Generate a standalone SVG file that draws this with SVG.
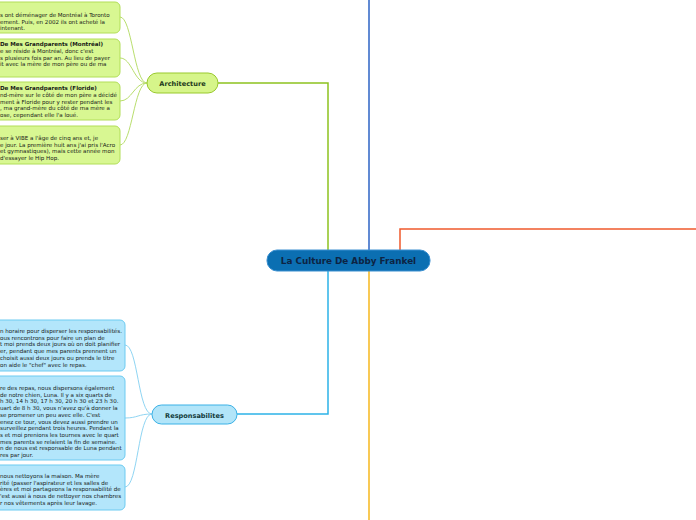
<svg xmlns="http://www.w3.org/2000/svg" width="696" height="520" viewBox="0 0 696 520">
<style>
.t{font-family:"DejaVu Sans","Liberation Sans",sans-serif;font-size:5.55px;fill:#162016}
.b{font-weight:bold}
.gbox{fill:#d8f792;stroke:#b2de58;stroke-width:1}
.bbox{fill:#b3e6fb;stroke:#6ccbf1;stroke-width:1}
.gc{fill:none;stroke:#b9de6e;stroke-width:1}
.bc{fill:none;stroke:#8fd5f3;stroke-width:1}
.lbl{font-family:"DejaVu Sans","Liberation Sans",sans-serif;font-weight:bold;text-anchor:middle}
</style>
<rect width="696" height="520" fill="#ffffff"/>
<g id="connectors">
<path d="M369,0 V250" stroke="#2d63c4" stroke-width="1.5" fill="none"/>
<path d="M400,250 V229 H696" stroke="#ef5a2d" stroke-width="1.5" fill="none"/>
<path d="M328,250 V83 H218" stroke="#8dc21f" stroke-width="1.5" fill="none"/>
<path d="M328,271 V414 H237" stroke="#2cb3e8" stroke-width="1.5" fill="none"/>
<path d="M369,271 V520" stroke="#f6b71d" stroke-width="1.5" fill="none"/>
<path class="gc" d="M147,83 C134,83 132,17 120,17"/>
<path class="gc" d="M147,83 C134,83 132,58 120,58"/>
<path class="gc" d="M147,83 C134,83 132,101 120,101"/>
<path class="gc" d="M147,83 C134,83 132,145 120,145"/>
<path class="bc" d="M152,414 C138,414 138,345 125,345"/>
<path class="bc" d="M152,414 C138,414 138,418 125,418"/>
<path class="bc" d="M152,414 C138,414 138,487 125,487"/>
</g>
<g id="central">
<rect x="267" y="250" width="163" height="21" rx="10" fill="#0b6fb2" stroke="#3a8fd0" stroke-width="1"/>
<text class="lbl" x="348.5" y="264" font-size="8.8" fill="#0d2443">La Culture De Abby Frankel</text>
</g>
<g id="architecture">
<rect x="147" y="73" width="71" height="20" rx="10" fill="#d6f58a" stroke="#99c92c" stroke-width="1"/>
<text class="lbl" x="182.5" y="86" font-size="6.6" fill="#1d3a1a">Architecture</text>
</g>
<g id="responsabilites">
<rect x="152" y="405" width="85" height="19" rx="9.5" fill="#b2e5f9" stroke="#3ab1e6" stroke-width="1"/>
<text class="lbl" x="194.5" y="417.5" font-size="6.6" fill="#123a3a">Responsabilites</text>
</g>
<g id="g1">
<rect class="gbox" x="-10" y="2" width="130" height="31" rx="5"/>
<text class="t" x="0" y="17">s ont déménager de Montréal à Toronto</text>
<text class="t" x="0" y="23.5">ement. Puis, en 2002 ils ont acheté la</text>
<text class="t" x="0" y="30">intenant.</text>
</g>
<g id="g2">
<rect class="gbox" x="-10" y="39" width="130" height="38" rx="5"/>
<text class="t b" x="0" y="46">De Mes Grandparents (Montréal)</text>
<text class="t" x="0" y="53">e se réside à Montréal, donc c'est</text>
<text class="t" x="0" y="59.5">s plusieurs fois par an. Au lieu de payer</text>
<text class="t" x="0" y="66">it avec la mère de mon père ou de ma</text>
</g>
<g id="g3">
<rect class="gbox" x="-10" y="82" width="130" height="38" rx="5"/>
<text class="t b" x="0" y="90">De Mes Grandparents (Floride)</text>
<text class="t" x="0" y="97">nd-mère sur le côté de mon père a décidé</text>
<text class="t" x="0" y="103.5">ment à Floride pour y rester pendant les</text>
<text class="t" x="0" y="110">, ma grand-mère du côté de ma mère a</text>
<text class="t" x="0" y="116.5">ose, cependant elle l'a loué.</text>
</g>
<g id="g4">
<rect class="gbox" x="-10" y="126" width="130" height="38" rx="5"/>
<text class="t" x="0" y="140">ser à VIBE a l'âge de cinq ans et, je</text>
<text class="t" x="0" y="146.5">e jour. La première huit ans j'ai pris l'Acro</text>
<text class="t" x="0" y="153">et gymnastiques), mais cette année mon</text>
<text class="t" x="0" y="159.5">d'essayer le Hip Hop.</text>
</g>
<g id="b1">
<rect class="bbox" x="-10" y="320" width="135" height="51" rx="5"/>
<text class="t" x="0" y="333">n horaire pour disperser les responsabilités.</text>
<text class="t" x="0" y="339.7">ous rencontrons pour faire un plan de</text>
<text class="t" x="0" y="346.4">t moi prends deux jours où on doit planifier</text>
<text class="t" x="0" y="353.1">er, pendant que mes parents prennent un</text>
<text class="t" x="0" y="359.8">choisit aussi deux jours ou prends le titre</text>
<text class="t" x="0" y="366.5">on aide le "chef" avec le repas.</text>
</g>
<g id="b2">
<rect class="bbox" x="-10" y="376" width="135" height="84" rx="5"/>
<text class="t" x="0" y="390">re des repas, nous dispersons également</text>
<text class="t" x="0" y="396.7">de notre chien, Luna. Il y a six quarts de</text>
<text class="t" x="0" y="403.4">h 30, 14 h 30, 17 h 30, 20 h 30 et 23 h 30.</text>
<text class="t" x="0" y="410.1">uart de 8 h 30, vous n'avez qu'à donner la</text>
<text class="t" x="0" y="416.8">se promener un peu avec elle. C'est</text>
<text class="t" x="0" y="423.5">enez ce tour, vous devez aussi prendre un</text>
<text class="t" x="0" y="430.2">surveillez pendant trois heures. Pendant la</text>
<text class="t" x="0" y="436.9">s et moi prenions les tournes avec le quart</text>
<text class="t" x="0" y="443.6">mes parents se relaient la fin de semaine.</text>
<text class="t" x="0" y="450.3">n de nous est responsable de Luna pendant</text>
<text class="t" x="0" y="457">res par jour.</text>
</g>
<g id="b3">
<rect class="bbox" x="-10" y="465" width="135" height="45" rx="5"/>
<text class="t" x="0" y="478">nous nettoyons la maison. Ma mère</text>
<text class="t" x="0" y="484.7">rité (passer l'aspirateur et les salles de</text>
<text class="t" x="0" y="491.4">ères et moi partageons la responsabilité de</text>
<text class="t" x="0" y="498.1">'est aussi à nous de nettoyer nos chambres</text>
<text class="t" x="0" y="504.8">r nos vêtements après leur lavage.</text>
</g>
</svg>
